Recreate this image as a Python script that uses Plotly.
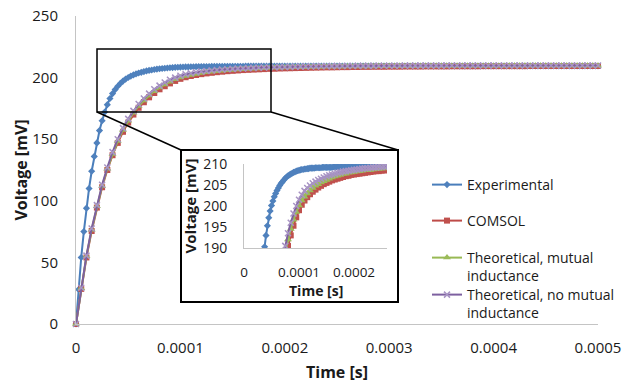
import plotly.graph_objects as go

# ---------------- data ----------------
# sample times in microseconds
t_model_us = list(range(0, 505, 5))          # COMSOL / theoretical: 5 us step
t_exp_us = [i * 2.5 for i in range(201)]     # experimental: 2.5 us step

experimental = [
    0, 28, 54, 75, 94, 110, 124, 136, 147, 157, 165, 172, 178, 183, 187, 190.3, 193, 195.3, 197.2, 198.8,
    200.1, 201.2, 202.2, 203.0, 203.7, 204.3, 204.9, 205.4, 205.8, 206.2, 206.6, 206.9, 207.2, 207.4, 207.6, 207.8, 208.0, 208.1, 208.3, 208.4,
    208.5, 208.6, 208.7, 208.7, 208.8, 208.8, 208.9, 208.9, 209.0, 209.0, 209.0, 209.0, 209.1, 209.1, 209.1, 209.1, 209.1, 209.2, 209.2, 209.2,
    209.2, 209.2, 209.2, 209.2, 209.2, 209.3, 209.3, 209.3, 209.3, 209.3, 209.3, 209.3, 209.3, 209.3, 209.3, 209.3, 209.3, 209.3, 209.3, 209.3,
    209.3, 209.3, 209.3, 209.3, 209.3, 209.3, 209.3, 209.3, 209.3, 209.3, 209.3, 209.3, 209.3, 209.3, 209.3, 209.3, 209.3, 209.3, 209.3, 209.3,
    209.3, 209.3, 209.3, 209.3, 209.3, 209.3, 209.3, 209.3, 209.3, 209.3, 209.4, 209.4, 209.4, 209.4, 209.4, 209.4, 209.4, 209.4, 209.4, 209.4,
    209.4, 209.4, 209.4, 209.4, 209.4, 209.4, 209.4, 209.4, 209.4, 209.4, 209.4, 209.4, 209.4, 209.4, 209.4, 209.4, 209.4, 209.4, 209.4, 209.4,
    209.4, 209.4, 209.4, 209.4, 209.4, 209.4, 209.4, 209.4, 209.4, 209.4, 209.4, 209.4, 209.4, 209.4, 209.4, 209.4, 209.4, 209.4, 209.4, 209.4,
    209.4, 209.4, 209.4, 209.4, 209.4, 209.4, 209.4, 209.4, 209.4, 209.4, 209.4, 209.4, 209.4, 209.4, 209.4, 209.4, 209.4, 209.4, 209.4, 209.4,
    209.4, 209.4, 209.4, 209.4, 209.4, 209.4, 209.4, 209.4, 209.4, 209.4, 209.4, 209.4, 209.4, 209.4, 209.4, 209.4, 209.4, 209.4, 209.4, 209.4,
    209.4,
]

comsol = [
    0, 28.5, 54, 75.5, 94.5, 111, 125, 137, 147, 156, 163.5, 170, 175.5, 180, 184, 187.5, 190.5, 193, 195.3, 197.3, 199,
    200.3, 201.3, 202.1, 202.8, 203.4, 203.9, 204.4, 204.8, 205.2, 205.5, 205.8, 206.1, 206.3, 206.5, 206.7, 206.9, 207.1, 207.2, 207.4, 207.5,
    207.6, 207.7, 207.8, 207.9, 208.0, 208.1, 208.2, 208.3, 208.3, 208.4,
    208.5, 208.5, 208.6, 208.6, 208.7, 208.7, 208.8, 208.8, 208.8, 208.9,
    208.9, 208.9, 209.0, 209.0, 209.0, 209.0, 209.1, 209.1, 209.1, 209.1,
    209.1, 209.2, 209.2, 209.2, 209.2, 209.2, 209.2, 209.3, 209.3, 209.3,
    209.3, 209.3, 209.3, 209.3, 209.3, 209.3, 209.4, 209.4, 209.4, 209.4,
    209.4, 209.4, 209.4, 209.4, 209.4, 209.4, 209.4, 209.4, 209.4, 209.4,
]

theo_mutual = [
    0, 29, 55, 76.5, 95.5, 112, 126, 138, 148.5, 157.5, 165, 171.5, 177, 181.5, 185.5, 189, 192, 194.5, 196.7, 198.6, 200.1,
    201.3, 202.2, 203.0, 203.7, 204.3, 204.8, 205.2, 205.6, 205.9, 206.2, 206.5, 206.8, 207.0, 207.2, 207.4, 207.6, 207.7, 207.9, 208.0, 208.1,
    208.2, 208.3, 208.4, 208.5, 208.6, 208.6, 208.7, 208.8, 208.8, 208.9,
    208.9, 209.0, 209.0, 209.0, 209.1, 209.1, 209.1, 209.2, 209.2, 209.2,
    209.2, 209.3, 209.3, 209.3, 209.3, 209.3, 209.4, 209.4, 209.4, 209.4,
    209.4, 209.4, 209.5, 209.5, 209.5, 209.5, 209.5, 209.5, 209.5, 209.5,
    209.5, 209.5, 209.6, 209.6, 209.6, 209.6, 209.6, 209.6, 209.6, 209.6,
    209.6, 209.6, 209.6, 209.6, 209.6, 209.6, 209.6, 209.6, 209.6, 209.6,
]

theo_no_mutual = [
    0, 29.5, 55.5, 77.5, 96.5, 113, 127, 139.5, 150, 159, 166.5, 173, 178.5, 183, 187, 190.5, 193.5, 196, 198.2, 200, 201.5,
    202.7, 203.6, 204.3, 204.9, 205.4, 205.8, 206.2, 206.5, 206.8, 207.1, 207.3, 207.5, 207.7, 207.9, 208.0, 208.2, 208.3, 208.4, 208.5, 208.6,
    208.7, 208.8, 208.9, 209.0, 209.0, 209.1, 209.2, 209.2, 209.3, 209.3,
    209.4, 209.4, 209.4, 209.5, 209.5, 209.5, 209.5, 209.6, 209.6, 209.6,
    209.6, 209.6, 209.7, 209.7, 209.7, 209.7, 209.7, 209.7, 209.7, 209.7,
    209.8, 209.8, 209.8, 209.8, 209.8, 209.8, 209.8, 209.8, 209.8, 209.8,
    209.8, 209.8, 209.8, 209.8, 209.8, 209.8, 209.8, 209.8, 209.8, 209.8,
    209.8, 209.8, 209.8, 209.8, 209.8, 209.8, 209.8, 209.8, 209.8, 209.8,
]

series_names = ["Experimental", "COMSOL", "Theoretical, mutual<br>inductance",
                "Theoretical, no mutual<br>inductance"]

main_x_tickvals = [0, 0.0001, 0.0002, 0.0003, 0.0004, 0.0005]
main_x_ticktext = ["0", "0.0001", "0.0002", "0.0003", "0.0004", "0.0005"]
main_y_tickvals = [0, 50, 100, 150, 200, 250]
inset_x_tickvals = [0, 0.0001, 0.0002]
inset_x_ticktext = ["0", "0.0001", "0.0002"]
inset_y_tickvals = [190, 195, 200, 205, 210]

# ---------------- styling ----------------
FONT = "Open Sans"
TXT = "#1a1a1a"
AXIS = "#C4C4C4"

t_model = [v * 1e-6 for v in t_model_us]
t_exp = [v * 1e-6 for v in t_exp_us]

styles = [
    dict(x=t_exp, y=experimental, line=dict(color="#4A7EBB", width=2),
         marker=dict(symbol="diamond", size=5.5, color="#4F81BD")),
    dict(x=t_model, y=comsol, line=dict(color="#BE4B48", width=2),
         marker=dict(symbol="square", size=6, color="#C0504D")),
    dict(x=t_model, y=theo_mutual, line=dict(color="#98B954", width=2),
         marker=dict(symbol="triangle-up", size=7, color="#9BBB59")),
    dict(x=t_model, y=theo_no_mutual, line=dict(color="#7D60A0", width=2),
         marker=dict(symbol="x-thin", size=6, color="#8064A2",
                     line=dict(color="#A894C4", width=1.5))),
]
legend_ids = ["legend", "legend2", "legend3", "legend4"]

fig = go.Figure()

# main chart traces
for name, st, lg in zip(series_names, styles, legend_ids):
    fig.add_trace(go.Scatter(mode="lines+markers", name=name, legend=lg,
                             cliponaxis=False, xaxis="x", yaxis="y", **st))

# empty trace to create the white inset box subplot
fig.add_trace(go.Scatter(x=[], y=[], xaxis="x2", yaxis="y2", showlegend=False,
                         hoverinfo="skip"))

# inset traces
for name, st in zip(series_names, styles):
    fig.add_trace(go.Scatter(mode="lines+markers", name=name, showlegend=False,
                             cliponaxis=True, xaxis="x3", yaxis="y3", **st))

W, H = 625, 383
L, R, T, B = 76, 27, 16, 59
PW, PH = W - L - R, H - T - B


def px(x):
    return (x - L) / PW


def py(y):
    return (H - B - y) / PH


tickfont = dict(family=FONT, size=15, color=TXT)
inset_font = dict(family=FONT, size=14, color=TXT)
inset_xfont = dict(family=FONT, size=13.5, color=TXT)

fig.update_layout(
    width=W, height=H,
    margin=dict(l=L, r=R, t=T, b=B, autoexpand=False),
    paper_bgcolor="white", plot_bgcolor="white",
    font=dict(family=FONT, color=TXT),
    xaxis=dict(domain=[0, 1], range=[0, 0.0005], tickvals=main_x_tickvals,
               ticktext=main_x_ticktext, showgrid=False, zeroline=False,
               showline=True, linecolor=AXIS, linewidth=1, ticks="",
               tickfont=tickfont, ticklabelstandoff=10, automargin=False,
               title=dict(text="Time [s]", font=dict(family=FONT, size=16, weight="bold", color=TXT),
                          standoff=11)),
    yaxis=dict(domain=[0, 1], range=[0, 250], tickvals=main_y_tickvals,
               showgrid=False, zeroline=False, showline=True, linecolor=AXIS,
               linewidth=1, ticks="", tickfont=tickfont, ticklabelstandoff=14,
               automargin=False,
               title=dict(text="Voltage [mV]", font=dict(family=FONT, size=16, weight="bold", color=TXT),
                          standoff=0)),
    xaxis2=dict(domain=[px(181), px(398)], anchor="y2", visible=False, range=[0, 1],
                automargin=False),
    yaxis2=dict(domain=[py(302), py(150)], anchor="x2", visible=False, range=[0, 1],
                automargin=False),
    xaxis3=dict(domain=[px(244), px(387)], anchor="y3", range=[0, 0.00026],
                tickvals=inset_x_tickvals, ticktext=inset_x_ticktext,
                showgrid=False, zeroline=False, showline=True, linecolor=AXIS,
                ticks="", tickfont=inset_xfont, ticklabelstandoff=12, automargin=False),
    yaxis3=dict(domain=[py(248), py(164)], anchor="x3", range=[190, 210],
                tickvals=inset_y_tickvals, showgrid=False, zeroline=False,
                showline=True, linecolor=AXIS, ticks="", tickfont=inset_font,
                ticklabelstandoff=13, automargin=False,
                title=dict(text="Voltage [mV]", font=dict(family=FONT, size=15, weight="bold", color=TXT),
                           standoff=2)),
    annotations=[
        dict(text="Time [s]", xref="paper", yref="paper", x=px(316), y=py(290),
             xanchor="center", yanchor="middle", showarrow=False,
             font=dict(family=FONT, size=14, weight="bold", color=TXT)),
    ],
    shapes=[
        dict(type="rect", xref="paper", yref="paper", x0=px(97), x1=px(271),
             y0=py(112), y1=py(49), line=dict(color="black", width=1.5), layer="above"),
        dict(type="line", xref="paper", yref="paper", x0=px(97), y0=py(112),
             x1=px(181), y1=py(150), line=dict(color="black", width=1.5), layer="above"),
        dict(type="line", xref="paper", yref="paper", x0=px(271), y0=py(112),
             x1=px(398), y1=py(150), line=dict(color="black", width=1.5), layer="above"),
        dict(type="rect", xref="paper", yref="paper", x0=px(181), x1=px(398),
             y0=py(302), y1=py(150), line=dict(color="black", width=2), layer="above"),
    ],
    showlegend=True,
)

legend_font = dict(family=FONT, size=14, color=TXT)
legend_y = [185, 221, 267, 304]
for lg, yy in zip(legend_ids, legend_y):
    fig.update_layout({lg: dict(x=px(427), y=py(yy), xanchor="left", yanchor="middle",
                                bgcolor="rgba(0,0,0,0)", font=legend_font, valign="top",
                                borderwidth=0)})

fig.write_html("out.html", config={"displayModeBar": False},
               post_script="document.body.style.margin='0';")
